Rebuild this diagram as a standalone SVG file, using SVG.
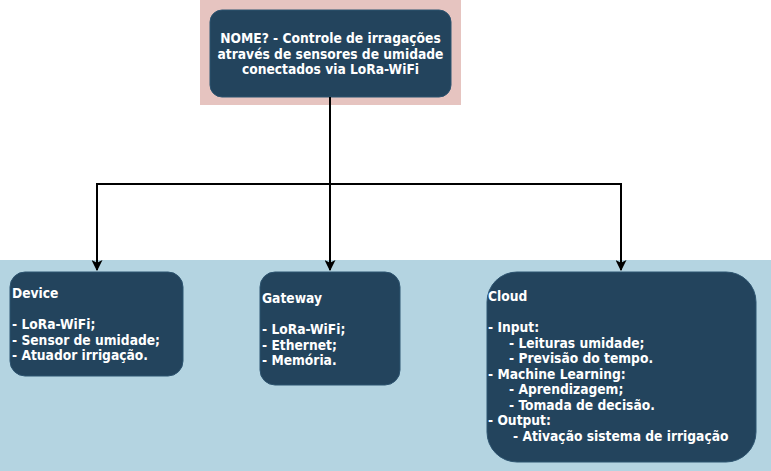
<svg xmlns="http://www.w3.org/2000/svg" width="771" height="471" viewBox="0 0 771 471">
<defs>
<style>
.box{fill:#23445d;stroke:#2d5470;stroke-width:1}
.t{font-family:"DejaVu Sans Condensed","DejaVu Sans",sans-serif;font-weight:bold;font-size:13.7px;fill:#ffffff}
.c{text-anchor:middle}
.edge{fill:none;stroke:#000000;stroke-width:2}
</style>
<marker id="arr" viewBox="0 0 10 10" refX="9" refY="5" markerWidth="5.5" markerHeight="5.5" orient="auto" markerUnits="strokeWidth">
<path d="M0,0 L10,5 L0,10 L2.5,5 Z" fill="#000000"/>
</marker>
</defs>
<rect x="0" y="0" width="771" height="471" fill="#ffffff"/>
<rect id="band" x="0" y="260" width="771" height="211" fill="#b4d4e1"/>
<rect id="titlebg" x="200" y="0" width="261" height="105" fill="#e6c4c0"/>
<g id="title">
<rect class="box" x="210" y="10" width="241" height="87" rx="12"/>
<text class="t c" x="330.5" y="43">NOME? - Controle de irragações</text>
<text class="t c" x="330.5" y="58.5">através de sensores de umidade</text>
<text class="t c" x="330.5" y="74">conectados via LoRa-WiFi</text>
</g>
<g id="connectors">
<path class="edge" d="M330,97 L330,270" marker-end="url(#arr)"/>
<path class="edge" d="M330,184 L97,184 L97,270" marker-end="url(#arr)"/>
<path class="edge" d="M330,184 L621,184 L621,270" marker-end="url(#arr)"/>
</g>
<g id="device">
<rect class="box" x="10" y="272" width="173" height="104" rx="15"/>
<text class="t" x="12" y="298">Device</text>
<text class="t" x="12" y="329">- LoRa-WiFi;</text>
<text class="t" x="12" y="344.5">- Sensor de umidade;</text>
<text class="t" x="12" y="360">- Atuador irrigação.</text>
</g>
<g id="gateway">
<rect class="box" x="260" y="272" width="140" height="113" rx="15"/>
<text class="t" x="262" y="303">Gateway</text>
<text class="t" x="262" y="334">- LoRa-WiFi;</text>
<text class="t" x="262" y="349.5">- Ethernet;</text>
<text class="t" x="262" y="365">- Memória.</text>
</g>
<g id="cloud">
<rect class="box" x="487" y="272" width="269" height="190" rx="30"/>
<text class="t" x="488" y="301">Cloud</text>
<text class="t" x="488" y="332">- Input:</text>
<text class="t" x="509" y="347.5">- Leituras umidade;</text>
<text class="t" x="509" y="363">- Previsão do tempo.</text>
<text class="t" x="488" y="378.5">- Machine Learning:</text>
<text class="t" x="509" y="394">- Aprendizagem;</text>
<text class="t" x="509" y="409.5">- Tomada de decisão.</text>
<text class="t" x="488" y="425">- Output:</text>
<text class="t" x="513" y="440.5">- Ativação sistema de irrigação</text>
</g>
</svg>
